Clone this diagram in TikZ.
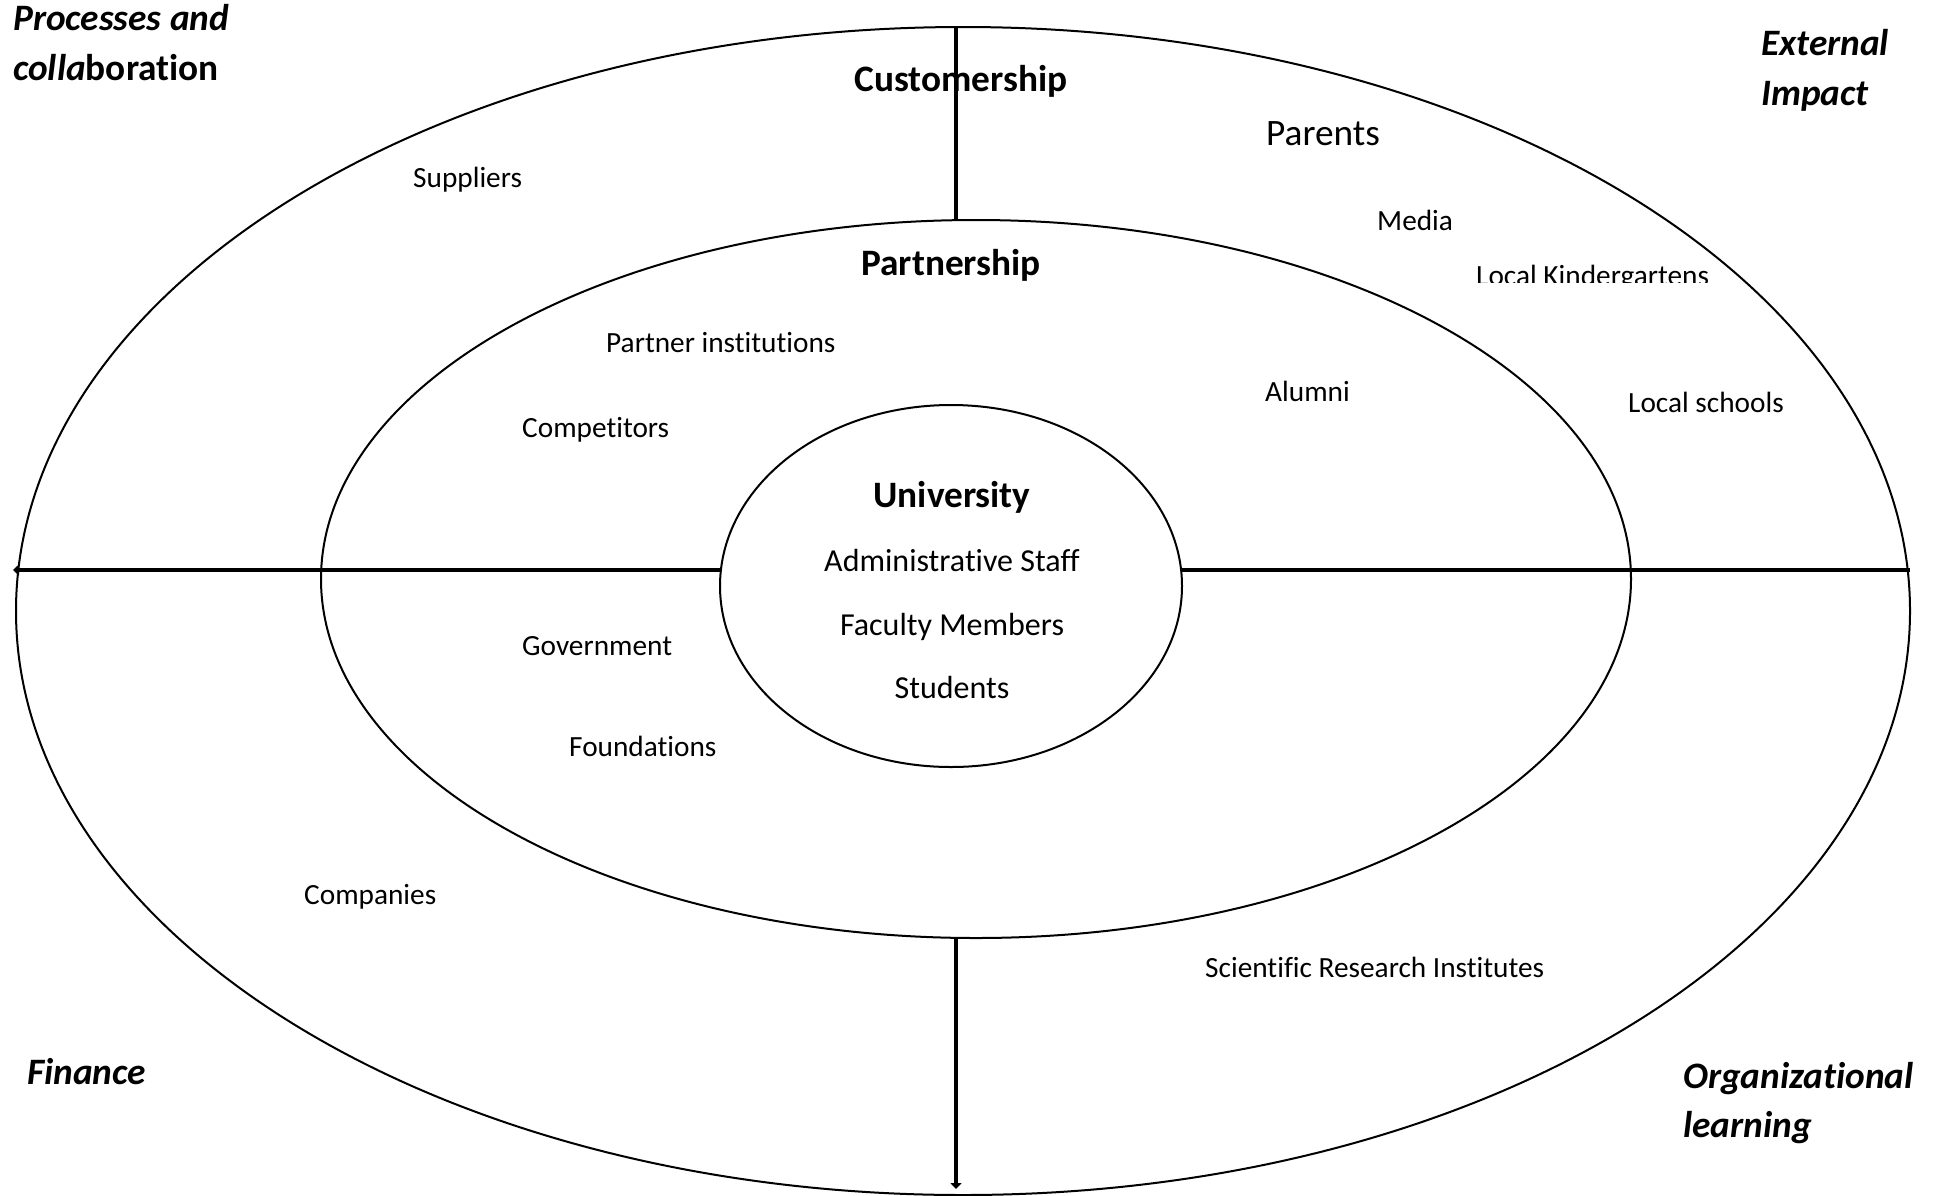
\documentclass[tikz,border=0pt]{standalone}
\usepackage{fontspec}
\setmainfont{Carlito}[Ligatures=NoCommon]
\usetikzlibrary{arrows.meta}
\tikzset{
  ring/.style={line width=2pt},
  axis/.style={line width=4.5pt},
  tipend/.style={-{Triangle[length=6pt,width=11pt]}},
  small/.style={font=\fontsize{29.3}{35}\selectfont, anchor=base west, inner sep=0pt},
  mid/.style={font=\fontsize{32}{38}\selectfont, anchor=base, inner sep=0pt},
  big/.style={font=\fontsize{37.3}{44}\selectfont, anchor=base west, inner sep=0pt},
  headc/.style={font=\bfseries\fontsize{37.3}{44}\selectfont, anchor=base, inner sep=0pt},
  corner/.style={font=\bfseries\itshape\fontsize{37.3}{44}\selectfont, anchor=base west, inner sep=0pt},
}
\begin{document}
\begin{tikzpicture}[x=1pt,y=-1pt]
\useasboundingbox (0,0) rectangle (1935,1195);
% rings
\draw[ring] (963,611) ellipse [x radius=947, y radius=584];
\draw[ring] (976,579) ellipse [x radius=655, y radius=359];
\draw[ring] (951,586) ellipse [x radius=231, y radius=181];
% axis end points
\coordinate (lend) at (13,570);
\coordinate (linner) at (721,570);
\coordinate (rinner) at (1181,570);
\coordinate (rend) at (1910,570);
\coordinate (tend) at (956,27);
\coordinate (tmid) at (956,219);
\coordinate (bmid) at (956,938);
\coordinate (bend) at (956,1189);
\draw[axis,tipend] (linner) -- (lend);
\draw[axis] (rinner) -- (rend);
\draw[axis] (tmid) -- (tend);
\draw[axis,tipend] (bmid) -- (bend);
% corner labels
\node[corner] (pc1) at (13,30) {Processes and};
\node[corner] (pc2) at (13,80) {colla\upshape boration};
\node[corner] (ei1) at (1761,55) {External};
\node[corner] (ei2) at (1761,105) {Impact};
\node[corner] (fin) at (27,1084) {Finance};
\node[corner] (ol1) at (1683,1088) {Organizational};
\node[corner] (ol2) at (1683,1137) {learning};
% headings
\node[headc] (cust) at (961,91) {Customership};
\node[headc] (part) at (951,275) {Partnership};
\node[headc] (univ) at (952,507) {University};
% inner labels
\node[mid] (adm) at (952,571) {Administrative Staff};
\node[mid] (fac) at (952,635) {Faculty Members};
\node[mid] (stu) at (952,698) {Students};
% others
\node[small] (sup) at (413,187) {Suppliers};
\node[big] (par) at (1266,145) {Parents};
\node[small] (med) at (1377,230) {Media};
\begin{scope}
  \clip (1400,240) rectangle (1800,282);
  \node[small] (kin) at (1476,285) {Local Kindergartens};
\end{scope}
\node[small] (pin) at (606,352) {Partner institutions};
\node[small] (com) at (522,437) {Competitors};
\node[small] (alu) at (1265,401) {Alumni};
\node[small] (lsc) at (1628,412) {Local schools};
\node[small] (gov) at (522,655) {Government};
\node[small] (fou) at (569,756) {Foundations};
\node[small] (cmp) at (304,904) {Companies};
\node[small] (sri) at (1205,977) {Scientific Research Institutes};
\end{tikzpicture}
\end{document}
